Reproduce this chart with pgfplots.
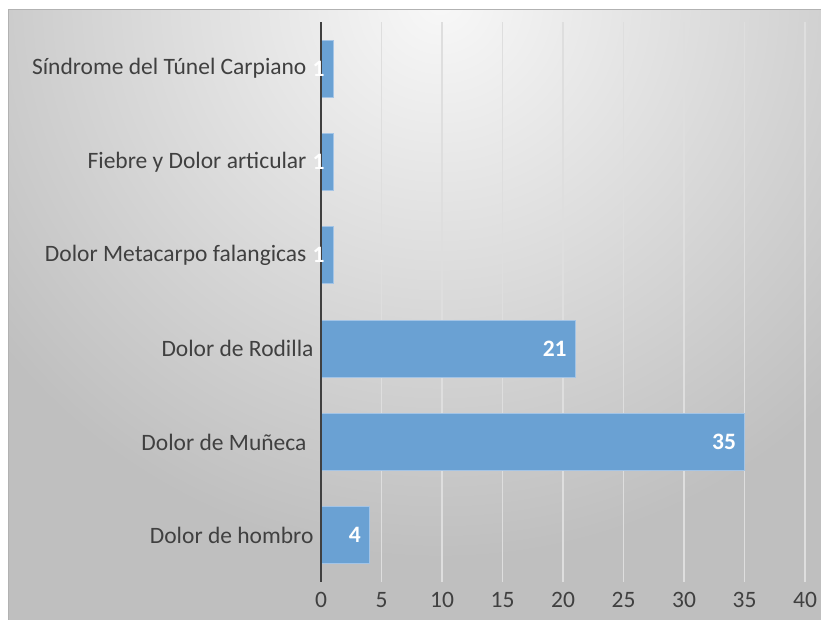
\documentclass[border=0pt]{standalone}
\usepackage{pgfplots}
\pgfplotsset{compat=1.18}
\usepackage{fontspec}
\setmainfont{Carlito}
\definecolor{bgin}{HTML}{F8F8F8}
\definecolor{bgout}{HTML}{BFBFBF}
\definecolor{barc}{HTML}{6AA1D3}
\definecolor{barb}{HTML}{A3C4E6}
\definecolor{txt}{HTML}{404040}
\pgfdeclareradialshading{bgshade}{\pgfpointorigin}{color(0bp)=(bgin); color(25bp)=(bgout); color(50bp)=(bgout)}
\begin{document}
\begin{tikzpicture}[x=1pt,y=1pt]
\path[use as bounding box] (0,0) rectangle (821,620);
\fill[white] (0,0) rectangle (821,620);
\begin{scope}
\clip (8,0) rectangle (821,610);
\fill[bgout] (8,0) rectangle (821,610);
\shade[shading=bgshade] (440,620) circle (560);
\end{scope}
\draw[black!30, line width=1pt] (8,0) -- (8,610) -- (821,610);
\begin{axis}[
  at={(321pt,38pt)}, anchor=south west,
  scale only axis, width=484pt, height=560pt,
  clip=false,
  xbar, xmin=0, xmax=40, ymin=-0.5, ymax=5.5,
  bar width=57pt,
  xtick={0,5,...,40}, ytick={0,...,5},
  yticklabels={Dolor de hombro, Dolor de Muñeca\kern7pt, Dolor de Rodilla, Dolor Metacarpo falangicas\kern7pt, Fiebre y Dolor articular\kern7pt, Síndrome del Túnel Carpiano\kern7pt},
  axis lines*=left,
  x axis line style={draw=none},
  y axis line style={draw=none},
  major tick length=0pt,
  xmajorgrids, major x grid style={color=black!13, line width=1.2pt},
  ticklabel style={font=\fontsize{23.5}{28}\selectfont, text=txt},
  /pgf/number format/assume math mode=true,
  xticklabel style={yshift=-7pt},
  yticklabel style={xshift=-4pt},
  nodes near coords,
  every node near coord/.append style={font=\bfseries\fontsize{23.5}{28}\selectfont, text=white, anchor=east, inner sep=0pt, xshift=-8pt},
]
\addplot[fill=barc, draw=barb, line width=1pt] coordinates {(4,0) (35,1) (21,2) (1,3) (1,4) (1,5)};
\draw[txt, line width=2.6pt] (axis cs:0,-0.5) -- (axis cs:0,5.5);
\end{axis}
\end{tikzpicture}
\end{document}
